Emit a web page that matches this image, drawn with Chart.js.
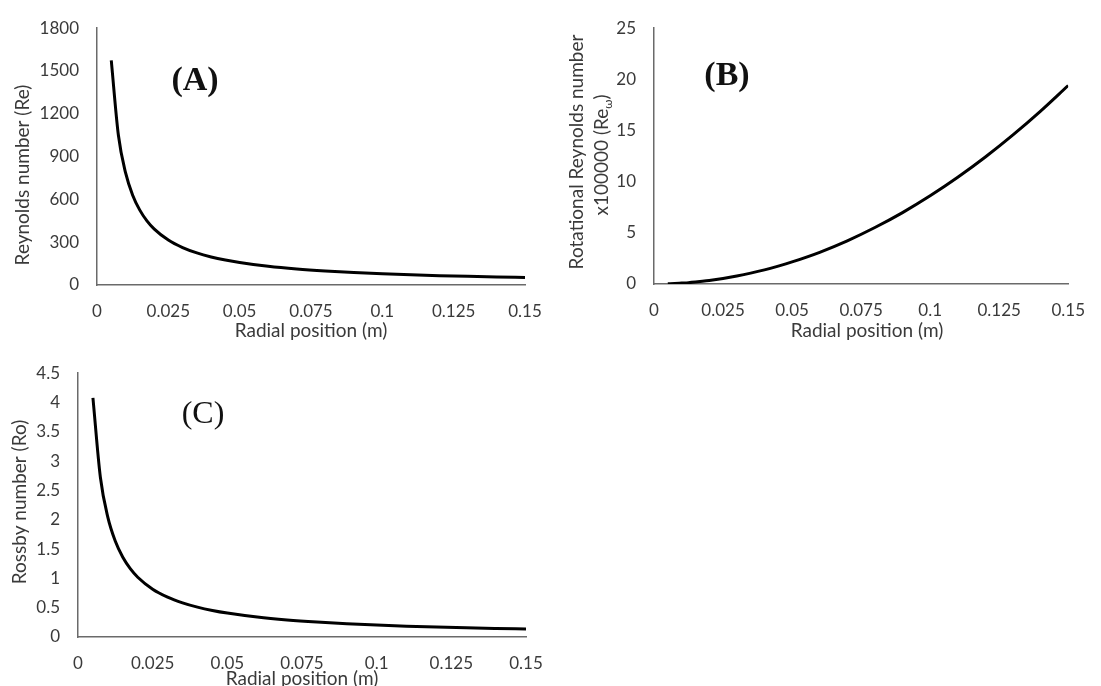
<!DOCTYPE html>
<html>
<head>
<meta charset="utf-8">
<script src="https://cdn.jsdelivr.net/npm/chart.js@4"></script>
<style>
  body { margin: 0; background: #fff; }
  .panel { position: absolute; }
</style>
</head>
<body>
<div class="panel" style="left:0;top:0"><canvas id="chartA" width="560" height="345"></canvas></div>
<div class="panel" style="left:560px;top:0"><canvas id="chartB" width="541" height="345"></canvas></div>
<div class="panel" style="left:0;top:345px"><canvas id="chartC" width="560" height="341"></canvas></div>
<script>
// radial position (m)
const radius = [0.005, 0.0075, 0.01, 0.0125, 0.015, 0.0175, 0.02, 0.025, 0.03, 0.035, 0.04, 0.045,
  0.05, 0.06, 0.07, 0.08, 0.09, 0.1, 0.11, 0.12, 0.13, 0.14, 0.15];
// (A) Reynolds number
const reynolds = [1574, 1049.3, 787, 629.6, 524.7, 449.7, 393.5, 314.8, 262.3, 224.9, 196.8, 174.9,
  157.4, 131.2, 112.4, 98.4, 87.4, 78.7, 71.5, 65.6, 60.5, 56.2, 52.5];
// (B) rotational Reynolds number x100000
const rotReynolds = [0.02, 0.05, 0.09, 0.13, 0.19, 0.26, 0.34, 0.54, 0.78, 1.06, 1.38, 1.75,
  2.16, 3.10, 4.22, 5.52, 6.98, 8.62, 10.43, 12.41, 14.57, 16.90, 19.40];
// (C) Rossby number
const rossby = [4.080, 2.720, 2.040, 1.632, 1.360, 1.166, 1.020, 0.816, 0.680, 0.583, 0.510, 0.453,
  0.408, 0.340, 0.291, 0.255, 0.227, 0.204, 0.185, 0.170, 0.157, 0.146, 0.136];

const xTickStep = 0.025;
const FONT = "Lato, 'Open Sans', sans-serif";
const TEXT = "#3a3a3a";

// draws axis titles and panel letters as text on the canvas
const notesPlugin = {
  id: "notes",
  afterDraw(chart, args, opts) {
    const ctx = chart.ctx;
    (opts.items || []).forEach((it) => {
      ctx.save();
      ctx.translate(it.x, it.y);
      if (it.rotate) ctx.rotate(-Math.PI / 2);
      ctx.fillStyle = it.color || TEXT;
      ctx.textBaseline = "middle";
      const parts = it.parts || [{ text: it.text, font: it.font }];
      let total = 0;
      parts.forEach((p) => { ctx.font = p.font; total += ctx.measureText(p.text).width; });
      let cx = -total / 2;
      parts.forEach((p) => {
        ctx.font = p.font;
        ctx.textAlign = "left";
        ctx.fillText(p.text, cx, p.dy || 0);
        cx += ctx.measureText(p.text).width;
      });
      ctx.restore();
    });
  },
};

function makeChart(id, values, yMax, yStep, box, notes) {
  const points = radius.map((r, i) => ({ x: r, y: values[i] }));
  return new Chart(document.getElementById(id), {
    type: "line",
    data: {
      datasets: [{
        data: points,
        borderColor: "#000",
        borderWidth: 3,
        pointRadius: 0,
        cubicInterpolationMode: "monotone",
        fill: false,
      }],
    },
    options: {
      responsive: false,
      animation: false,
      events: [],
      layout: { padding: { top: box.top, right: box.right, left: 0, bottom: 0 } },
      plugins: { legend: { display: false }, tooltip: { enabled: false }, notes: { items: notes } },
      scales: {
        x: {
          type: "linear",
          min: 0,
          max: 0.15,
          grid: { display: false, drawTicks: false },
          border: { display: true, color: "#6a6a6a", width: 1.5 },
          ticks: {
            stepSize: xTickStep,
            padding: 16,
            color: TEXT,
            font: { family: FONT, size: 17 },
            maxRotation: 0,
            autoSkip: false,
            callback: (v) => String(+v.toFixed(3)),
          },
          afterFit: (s) => { s.height = box.xHeight; },
        },
        y: {
          min: 0,
          max: yMax,
          grid: { display: false, drawTicks: false },
          border: { display: true, color: "#6a6a6a", width: 1.5 },
          ticks: {
            stepSize: yStep,
            padding: 18,
            color: TEXT,
            font: { family: FONT, size: 17 },
            callback: (v) => String(+v.toFixed(3)),
          },
          afterFit: (s) => { s.width = box.left; },
        },
      },
    },
    plugins: [notesPlugin],
  });
}

const titleFont = "19px " + FONT;
const serifBold = "bold 34px 'Liberation Serif', 'DejaVu Serif', serif";
const serif = "32px 'Liberation Serif', 'DejaVu Serif', serif";

makeChart("chartA", reynolds, 1800, 300,
  { left: 97, right: 35, top: 24, xHeight: 60 },
  [
    { text: "Radial position (m)", x: 311, y: 331, font: titleFont },
    { text: "Reynolds number (Re)", x: 23, y: 175, rotate: true, font: titleFont },
    { text: "(A)", x: 195, y: 81, font: serifBold, color: "#111" },
  ]);

makeChart("chartB", rotReynolds, 25, 5,
  { left: 94, right: 20, top: 25, xHeight: 61 },
  [
    { text: "Radial position (m)", x: 307, y: 331, font: titleFont },
    { text: "Rotational Reynolds number", x: 17, y: 152, rotate: true, font: titleFont },
    { x: 42, y: 155, rotate: true, parts: [
      { text: "x100000 (Re", font: titleFont },
      { text: "\u03c9", font: "12px " + FONT, dy: 6 },
      { text: ")", font: titleFont },
    ] },
    { text: "(B)", x: 167, y: 76, font: serifBold, color: "#111" },
  ]);

makeChart("chartC", rossby, 4.5, 0.5,
  { left: 78, right: 34, top: 24, xHeight: 49 },
  [
    { text: "Radial position (m)", x: 302, y: 334, font: titleFont },
    { text: "Rossby number (Ro)", x: 20, y: 157, rotate: true, font: titleFont },
    { text: "(C)", x: 203, y: 70, font: serif, color: "#111" },
  ]);
</script>
</body>
</html>
